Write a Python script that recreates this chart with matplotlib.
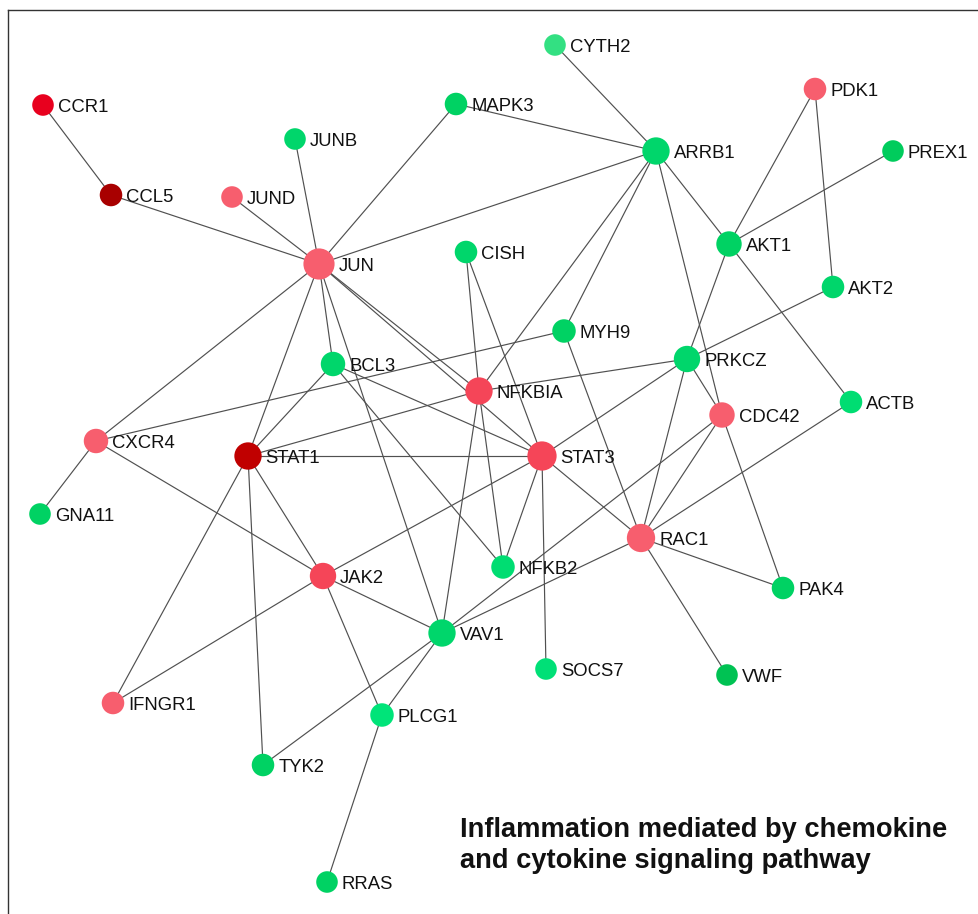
import matplotlib
matplotlib.use("Agg")
import matplotlib.pyplot as plt
from matplotlib.patches import Circle

plt.rcParams["font.family"] = ["Liberation Sans", "DejaVu Sans"]

# node names and colours
genes = [
    "CCR1", "CCL5", "JUND", "JUNB", "MAPK3", "CYTH2", "JUN", "CISH",
    "ARRB1", "PDK1", "PREX1", "AKT1", "AKT2", "MYH9", "BCL3", "PRKCZ",
    "NFKBIA", "ACTB", "CDC42", "CXCR4", "STAT1", "STAT3", "GNA11", "RAC1",
    "JAK2", "NFKB2", "PAK4", "VAV1", "SOCS7", "VWF", "IFNGR1", "PLCG1",
    "TYK2", "RRAS",
]
colors = [
    "#e8001e", "#a80000", "#f75e6e", "#00d66b", "#00d263", "#33e082", "#f75e6e", "#00d66b",
    "#00d66b", "#f75e6e", "#00cc5c", "#00d263", "#00d66b", "#00d263", "#00d66b", "#00d66b",
    "#f54558", "#00dd72", "#f75e6e", "#f75e6e", "#c00000", "#f54558", "#00d263", "#f75e6e",
    "#f54558", "#00dd72", "#00d263", "#00d66b", "#00e077", "#00c253", "#f75e6e", "#00e479",
    "#00d263", "#00d263",
]

# layout (pixel coordinates of the original network view)
layout = {
    "CCR1": (43, 105), "CCL5": (111, 195), "JUND": (232, 197), "JUNB": (295, 139),
    "MAPK3": (456, 104), "CYTH2": (555, 45), "JUN": (319, 264), "CISH": (466, 252),
    "ARRB1": (656, 151), "PDK1": (815, 89), "PREX1": (893, 151), "AKT1": (729, 244),
    "AKT2": (833, 287), "MYH9": (564, 331), "BCL3": (333, 364), "PRKCZ": (687, 359),
    "NFKBIA": (479, 391), "ACTB": (851, 402), "CDC42": (722, 415), "CXCR4": (96, 441),
    "STAT1": (248, 456), "STAT3": (542, 456), "GNA11": (40, 514), "RAC1": (641, 538),
    "JAK2": (323, 576), "NFKB2": (503, 567), "PAK4": (783, 588), "VAV1": (442, 633),
    "SOCS7": (546, 669), "VWF": (727, 675), "IFNGR1": (113, 703), "PLCG1": (382, 715),
    "TYK2": (263, 765), "RRAS": (327, 882),
}

edges = [
    ("CCR1", "CCL5"), ("CCL5", "JUN"), ("JUND", "JUN"), ("JUNB", "JUN"),
    ("MAPK3", "JUN"), ("MAPK3", "ARRB1"), ("CYTH2", "ARRB1"), ("JUN", "ARRB1"),
    ("JUN", "CXCR4"), ("JUN", "STAT1"), ("JUN", "BCL3"), ("JUN", "VAV1"),
    ("JUN", "NFKBIA"), ("JUN", "STAT3"), ("CISH", "NFKBIA"), ("CISH", "STAT3"),
    ("ARRB1", "AKT1"), ("ARRB1", "CDC42"), ("ARRB1", "MYH9"), ("ARRB1", "NFKBIA"),
    ("PDK1", "AKT1"), ("PDK1", "AKT2"), ("PREX1", "AKT1"), ("AKT1", "ACTB"),
    ("AKT1", "PRKCZ"), ("AKT2", "PRKCZ"), ("MYH9", "CXCR4"), ("MYH9", "RAC1"),
    ("BCL3", "STAT1"), ("BCL3", "STAT3"), ("BCL3", "NFKB2"), ("PRKCZ", "NFKBIA"),
    ("PRKCZ", "STAT3"), ("PRKCZ", "CDC42"), ("PRKCZ", "RAC1"), ("NFKBIA", "STAT1"),
    ("NFKBIA", "VAV1"), ("NFKBIA", "NFKB2"), ("ACTB", "RAC1"), ("CDC42", "RAC1"),
    ("CDC42", "PAK4"), ("CDC42", "VAV1"), ("CXCR4", "GNA11"), ("CXCR4", "JAK2"),
    ("STAT1", "STAT3"), ("STAT1", "JAK2"), ("STAT1", "IFNGR1"), ("STAT1", "TYK2"),
    ("STAT3", "JAK2"), ("STAT3", "NFKB2"), ("STAT3", "SOCS7"), ("STAT3", "RAC1"),
    ("RAC1", "PAK4"), ("RAC1", "VWF"), ("RAC1", "VAV1"), ("JAK2", "IFNGR1"),
    ("JAK2", "VAV1"), ("JAK2", "PLCG1"), ("VAV1", "TYK2"), ("VAV1", "PLCG1"),
    ("PLCG1", "RRAS"),
]

title_lines = ["Inflammation mediated by chemokine", "and cytokine signaling pathway"]

W, H = 979, 914
fig = plt.figure(figsize=(W / 100, H / 100), dpi=100)
ax = fig.add_axes([8 / W, 0, 1 - 8 / W, 1 - 10 / H])
ax.set_xlim(8, W)
ax.set_ylim(H, 10)
ax.set_xticks([])
ax.set_yticks([])
for side in ["right", "bottom"]:
    ax.spines[side].set_visible(False)
for side in ["left", "top"]:
    ax.spines[side].set_color("#333333")
    ax.spines[side].set_linewidth(1.0)

degree = {g: 0 for g in genes}
for a, b in edges:
    degree[a] += 1
    degree[b] += 1
    xa, ya = layout[a]
    xb, yb = layout[b]
    ax.plot([xa, xb], [ya, yb], color="#505050", lw=0.85, zorder=1,
            solid_capstyle="butt")

for g, c in zip(genes, colors):
    x, y = layout[g]
    r = 10.3 + 0.48 * degree[g]
    ax.add_patch(Circle((x, y), r, facecolor=c, edgecolor="none", zorder=2))
    ax.text(x + r + 4, y + 6.6, g, fontsize=13.3, color="#111111",
            va="baseline", ha="left", zorder=3)

ax.text(460, 837, title_lines[0], fontsize=19.6, fontweight="bold",
        va="baseline", ha="left", color="#111111")
ax.text(460, 868, title_lines[1], fontsize=19.6, fontweight="bold",
        va="baseline", ha="left", color="#111111")

fig.savefig("out.png", dpi=100, facecolor="white")
